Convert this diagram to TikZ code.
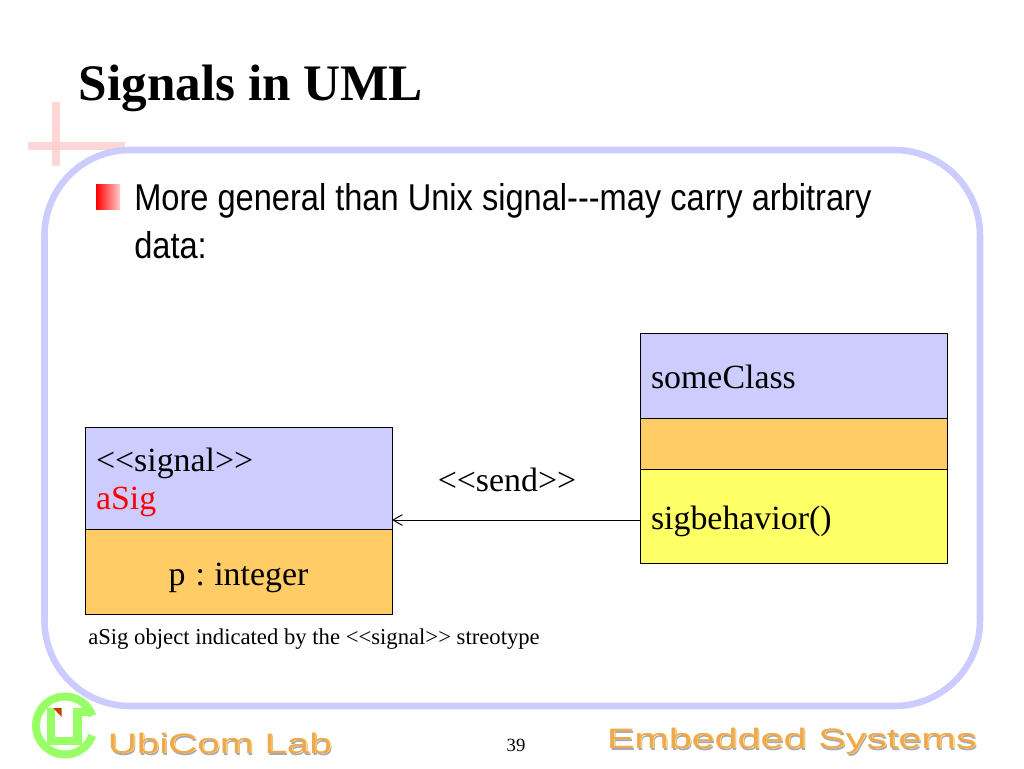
\documentclass[tikz,border=0pt]{standalone}
\usepackage{fontspec}
\setmainfont{Liberation Serif}
\newfontfamily\bodyfont[FakeStretch=0.873]{Liberation Sans}
\newfontfamily\logofont[FakeStretch=1.44]{Liberation Sans}
\newfontfamily\logowidefont[FakeStretch=1.476]{Liberation Sans}
\usepackage{tikz}
\usetikzlibrary{arrows.meta, positioning, shapes}
\definecolor{frameblue}{HTML}{CCCCFF}
\definecolor{boxorange}{HTML}{FFCC66}
\definecolor{boxyellow}{HTML}{FFFF66}
\definecolor{crosspink}{HTML}{FFCCCC}
\definecolor{logogreen}{HTML}{99FF66}
\definecolor{logored}{HTML}{C83C00}
\definecolor{logoorange}{HTML}{F0A850}
\definecolor{logolight}{HTML}{FFE070}
\definecolor{logogray}{HTML}{A8A8B0}
\frenchspacing
\tikzstyle{cell} = [rectangle, draw, line width=.75pt, inner xsep=8.25pt, inner ysep=0pt, outer sep=0pt, text width=213.75pt, align=left, font=\fontsize{25.4}{29}\selectfont]
\tikzstyle{cellblue} = [cell, fill=frameblue]
\tikzstyle{cellorange} = [cell, fill=boxorange]
\tikzstyle{cellyellow} = [cell, fill=boxyellow]
\tikzstyle{arrow} = [line width=.75pt,-{Straight Barb[length=7pt,width=8pt]}]
\tikzstyle{lbl} = [inner sep=0pt, anchor=west]
\tikzstyle{logotxt} = [inner sep=0pt, anchor=west, font=\logofont\fontsize{21}{21}\selectfont]
\tikzstyle{logowide} = [logotxt, font=\logowidefont\fontsize{21}{21}\selectfont]
\begin{document}
\begin{tikzpicture}[x=.75pt, y=-.75pt, node distance = 0cm]
\useasboundingbox (0,0) rectangle (1024,768);
\fill[white] (0,0) rectangle (1024,768);

% corner cross and frame
\fill[crosspink, opacity=.8] (52,102) rectangle (60,166);
\fill[crosspink, opacity=.8] (28,142) rectangle (125,150);
\draw[frameblue, line width=4.9pt, rounded corners=64pt] (44.5,150) rectangle (980,706);

\node(Title)[lbl, font=\fontsize{38.4}{40}\selectfont\bfseries] at (78.5,88) {Signals in UML};

% bullet
\shade[left color=red, right color=crosspink] (96,184) rectangle (120,209);
\node(Line1)[lbl, font=\bodyfont\fontsize{28}{36}\selectfont] at (134,201) {More general than Unix signal-{}-{}-may carry arbitrary};
\node(Line2)[lbl, font=\bodyfont\fontsize{28}{36}\selectfont] at (134,245) {data:};

% signal class
\node(SigName)[cellblue, minimum height=76.5pt, text height=24pt] at (238.5,478) {<{}<signal>{}>\\\textcolor{red}{aSig}};
\node(SigAttr)[cellorange, below = of SigName, minimum height=63.75pt, align=center, text height=26pt] {p\kern-1pt{} :\kern-1.5pt{} integer};

% sender class
\node(SomeClass)[cellblue, minimum height=63.75pt, text height=19pt] at (793.5,375.5) {someClass};
\node(SomeAttr)[cellorange, below = of SomeClass, minimum height=38.25pt] {};
\node(SigBehav)[cellyellow, below = of SomeAttr, minimum height=70.5pt, text height=26pt] {sigbehavior()};

\draw [arrow] ([yshift=-3pt]SigBehav.west) -- ([yshift=-31.5pt]SigName.east);
\node(Send)[font=\fontsize{25.4}{29}\selectfont, inner sep=0pt] at (507,480) {<{}<send>{}>};

\node(Note)[lbl, font=\fontsize{17}{19}\selectfont] at (88,639) {aSig object indicated by the <{}<signal>{}> streotype};
\node(PageNo)[font=\fontsize{14}{16}\selectfont, inner sep=0pt] at (516,745) {39};

% logo
\draw[logogreen, line width=6pt] (92.25,715.6) arc[start angle=20, end angle=340, radius=21.75pt];
\draw[logogreen, line width=6.3pt] (51,708) -- (51,741) -- (77.5,741) -- (77.5,712) -- (92,712);
\fill[logored] (53.3,708) -- (61.7,708) -- (61.7,717) -- cycle;

\node(LabShadow)[logotxt, text=logogray] at (109,745) {UbiCom Lab};
\node(LabHigh)[logotxt, text=logolight] at (108.5,743.5) {UbiCom Lab};
\node(LabTxt)[logotxt, text=logoorange] at (107.5,743.5) {UbiCom Lab};
\node(EmbShadow)[logowide, text=logogray] at (608,743) {Embedded Systems};
\node(EmbHigh)[logowide, text=logolight] at (607.5,741.5) {Embedded Systems};
\node(EmbTxt)[logowide, text=logoorange] at (606.5,741.5) {Embedded Systems};
\end{tikzpicture}
\end{document}
